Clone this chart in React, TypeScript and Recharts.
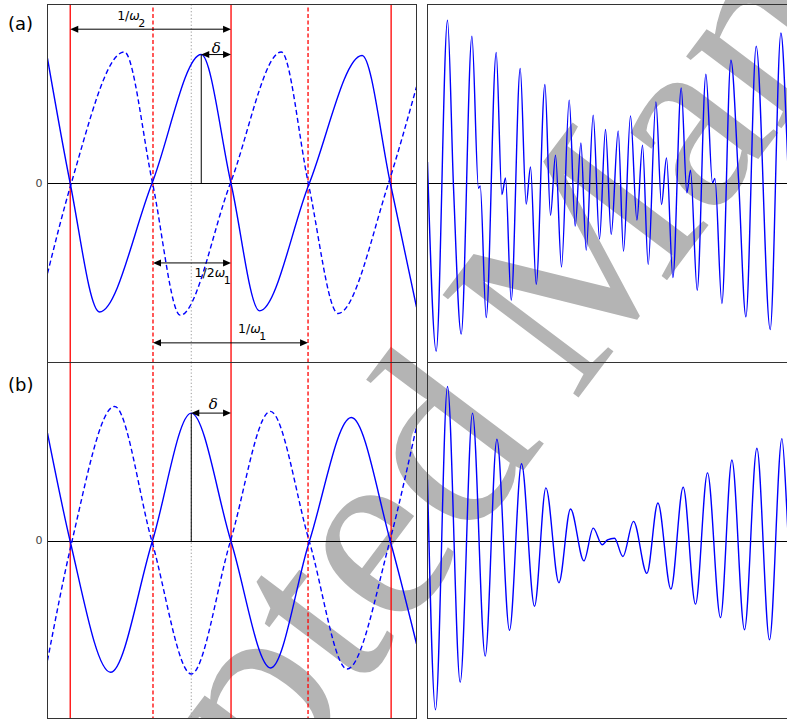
import React from "react";
import { LineChart, Line, XAxis, YAxis, ReferenceLine } from "recharts";

type Pt = { t: number; y: number };

// left panels: time in arbitrary units, amplitude normalised to ~1
const aSolid: Pt[] = [
  { t: 0, y: 0.962 }, { t: 0.284, y: 0 }, { t: 0.65, y: -0.988 }, { t: 1.305, y: 0 },
  { t: 1.921, y: 0.992 }, { t: 2.293, y: 0 }, { t: 2.65, y: -0.98 }, { t: 3.27, y: 0 },
  { t: 3.93, y: 0.985 }, { t: 4.284, y: 0 }, { t: 4.61, y: -0.95 },
];
const aDashed: Pt[] = [
  { t: 0, y: -0.692 }, { t: 0.296, y: 0 }, { t: 0.959, y: 1.012 }, { t: 1.313, y: 0 },
  { t: 1.659, y: -1.013 }, { t: 2.284, y: 0 }, { t: 2.921, y: 1.012 }, { t: 3.259, y: 0 },
  { t: 3.63, y: -1.0 }, { t: 4.259, y: 0 }, { t: 4.61, y: 0.743 },
];
const bSolid: Pt[] = [
  { t: 0, y: 0.828 }, { t: 0.284, y: 0 }, { t: 0.788, y: -1.0 }, { t: 1.309, y: 0 },
  { t: 1.796, y: 0.982 }, { t: 2.293, y: 0 }, { t: 2.788, y: -0.967 }, { t: 3.271, y: 0 },
  { t: 3.796, y: 0.948 }, { t: 4.284, y: 0 }, { t: 4.61, y: -0.782 },
];
const bDashed: Pt[] = [
  { t: 0, y: -0.91 }, { t: 0.305, y: 0 }, { t: 0.838, y: 1.033 }, { t: 1.305, y: 0 },
  { t: 1.796, y: -1.013 }, { t: 2.284, y: 0 }, { t: 2.784, y: 0.995 }, { t: 3.271, y: 0 },
  { t: 3.743, y: -0.975 }, { t: 4.275, y: 0 }, { t: 4.61, y: 0.879 },
];

const redSolidT = [0.284, 2.293, 4.293];
const redDashedT = [1.318, 3.255];
const dottedT = 1.796;

// right panels: beating signals
const rightTop: Pt[] = [
  { t: 0, y: 0.166 }, { t: 0.87, y: -1.29 }, { t: 2.0, y: 1.256 }, { t: 2.6, y: -0.026 },
  { t: 3.37, y: -1.159 }, { t: 4.44, y: 1.133 }, { t: 5.1, y: -0.036 }, { t: 5.27, y: -0.018 },
  { t: 5.87, y: -1.031 }, { t: 6.87, y: 1.008 }, { t: 7.44, y: -0.085 }, { t: 7.8, y: 0.043 },
  { t: 8.37, y: -0.898 }, { t: 9.27, y: 0.885 }, { t: 9.87, y: -0.159 }, { t: 10.3, y: 0.128 },
  { t: 10.87, y: -0.775 }, { t: 11.74, y: 0.762 }, { t: 12.3, y: -0.244 }, { t: 12.8, y: 0.218 },
  { t: 13.4, y: -0.642 }, { t: 14.17, y: 0.641 }, { t: 14.77, y: -0.328 }, { t: 15.34, y: 0.312 },
  { t: 15.87, y: -0.513 }, { t: 16.57, y: 0.525 }, { t: 17.2, y: -0.428 }, { t: 17.8, y: 0.415 },
  { t: 18.37, y: -0.392 }, { t: 19.07, y: 0.405 }, { t: 19.6, y: -0.521 }, { t: 20.3, y: 0.52 },
  { t: 20.94, y: -0.282 }, { t: 21.5, y: 0.295 }, { t: 22.07, y: -0.623 }, { t: 22.84, y: 0.628 },
  { t: 23.4, y: -0.162 }, { t: 23.9, y: 0.197 }, { t: 24.54, y: -0.723 }, { t: 25.37, y: 0.735 },
  { t: 25.94, y: -0.072 }, { t: 26.3, y: 0.102 }, { t: 26.97, y: -0.821 }, { t: 27.84, y: 0.841 },
  { t: 28.5, y: 0.005 }, { t: 28.74, y: 0.038 }, { t: 29.44, y: -0.923 }, { t: 30.34, y: 0.948 },
  { t: 31.1, y: 0.038 }, { t: 31.84, y: -1.026 }, { t: 32.87, y: 1.056 }, { t: 34.27, y: -1.123 },
  { t: 35.34, y: 1.158 }, { t: 35.94, y: 0.333 }, { t: 36.3, y: -0.4 },
];
const rightBottom: Pt[] = [
  { t: 0, y: 0.475 }, { t: 0.8, y: -1.287 }, { t: 2.0, y: 1.185 }, { t: 3.27, y: -1.077 },
  { t: 4.5, y: 0.982 }, { t: 5.77, y: -0.877 }, { t: 6.94, y: 0.782 }, { t: 8.2, y: -0.679 },
  { t: 9.4, y: 0.595 }, { t: 10.7, y: -0.495 }, { t: 11.84, y: 0.41 }, { t: 13.14, y: -0.315 },
  { t: 14.3, y: 0.249 }, { t: 15.64, y: -0.148 }, { t: 16.57, y: 0.102 }, { t: 17.47, y: -0.025 },
  { t: 18.0, y: 0.012 }, { t: 18.7, y: 0.025 }, { t: 19.54, y: -0.115 }, { t: 20.6, y: 0.154 },
  { t: 21.94, y: -0.244 }, { t: 23.04, y: 0.295 }, { t: 24.34, y: -0.364 }, { t: 25.57, y: 0.415 },
  { t: 26.8, y: -0.479 }, { t: 28.0, y: 0.525 }, { t: 29.3, y: -0.582 }, { t: 30.44, y: 0.623 },
  { t: 31.7, y: -0.675 }, { t: 32.94, y: 0.713 }, { t: 34.2, y: -0.752 }, { t: 35.44, y: 0.787 },
  { t: 35.94, y: 0.231 }, { t: 36.3, y: -0.35 },
];

// arrows: [from, to, level]
const omega2Span = [0.284, 2.293, 1.187];
const halfOmega1Span = [1.318, 2.293, -0.611];
const omega1Span = [1.318, 3.255, -1.226];
const deltaA = [1.921, 2.293, 0.992];
const deltaB = [1.796, 2.293, 0.982];

const BLUE = "#0000ff";
const RED = "#ff0000";
const font = "'DejaVu Sans', sans-serif";

function Arrow(props: any) {
  const { x1, y1, x2, note, dx = 0, dy = 0, anchor = "middle" } = props;
  const h = 8;
  const w = 3.5;
  const mid = (x1 + x2) / 2;
  return (
    <g>
      <line x1={x1 + h - 1} y1={y1} x2={x2 - h + 1} y2={y1} stroke="#000" strokeWidth={1} />
      <polygon points={`${x1},${y1} ${x1 + h},${y1 - w} ${x1 + h},${y1 + w}`} fill="#000" />
      <polygon points={`${x2},${y1} ${x2 - h},${y1 - w} ${x2 - h},${y1 + w}`} fill="#000" />
      {note && (
        <text x={mid + dx} y={y1 + dy} textAnchor={anchor} fontFamily={font} fontSize={12.5} fill="#000">
          {note}
        </text>
      )}
    </g>
  );
}

const Delta = (
  <tspan fontFamily="'DejaVu Serif', serif" fontStyle="italic" fontSize={15}>
    δ
  </tspan>
);

function arrowLine(span: number[], note: React.ReactNode, dx: number, dy: number, anchor = "middle") {
  return (
    <ReferenceLine
      segment={[
        { x: span[0], y: span[2] },
        { x: span[1], y: span[2] },
      ]}
      stroke="#000"
      shape={(p: any) => <Arrow {...p} note={note} dx={dx} dy={dy} anchor={anchor} />}
    />
  );
}

function LeftPanel({ solid, dashed, yMax, marks }: { solid: Pt[]; dashed: Pt[]; yMax: number; marks: React.ReactNode }) {
  return (
    <LineChart width={417} height={358.5} margin={{ top: 0.5, right: 0.5, bottom: 0, left: 47.5 }}>
      <XAxis type="number" dataKey="t" domain={[0, 4.61]} hide allowDataOverflow />
      <YAxis type="number" domain={[-yMax, yMax]} hide allowDataOverflow />
      {redSolidT.map((t) => (
        <ReferenceLine key={`rs${t}`} x={t} stroke={RED} strokeWidth={1.3} />
      ))}
      {redDashedT.map((t) => (
        <ReferenceLine key={`rd${t}`} x={t} stroke={RED} strokeWidth={1.3} strokeDasharray="4 2.5" />
      ))}
      <ReferenceLine x={dottedT} stroke="#999" strokeDasharray="1.2 2.2" />
      <ReferenceLine y={0} stroke="#000" />
      <Line data={dashed} dataKey="y" type="monotone" stroke={BLUE} strokeWidth={1.4} strokeDasharray="5 3" dot={false} isAnimationActive={false} />
      <Line data={solid} dataKey="y" type="monotone" stroke={BLUE} strokeWidth={1.4} dot={false} isAnimationActive={false} />
      {marks}
    </LineChart>
  );
}

function RightPanel({ data, yMax }: { data: Pt[]; yMax: number }) {
  return (
    <LineChart width={364} height={358.5} margin={{ top: 0.5, right: 0.5, bottom: 0, left: 0.5 }}>
      <XAxis type="number" dataKey="t" domain={[0, 36.3]} hide allowDataOverflow />
      <YAxis type="number" domain={[-yMax, yMax]} hide allowDataOverflow />
      <ReferenceLine y={0} stroke="#000" />
      <Line data={data} dataKey="y" type="monotone" stroke={BLUE} strokeWidth={1.4} dot={false} isAnimationActive={false} />
    </LineChart>
  );
}

const frame = (left: number, top: number, width: number, height: number): React.CSSProperties => ({
  position: "absolute",
  left,
  top,
  width,
  height,
  boxSizing: "border-box",
  border: "1px solid #333",
  pointerEvents: "none",
});

const sub = (s: string) => (
  <tspan dx={-1.5} dy={7} fontSize={11}>
    {s}
  </tspan>
);

export default function App() {
  const marksA = (
    <>
      <ReferenceLine segment={[{ x: deltaA[0], y: 0 }, { x: deltaA[0], y: deltaA[2] }]} stroke="#000" />
      {arrowLine(omega2Span, <>1/<tspan fontStyle="italic">ω</tspan>{sub("2")}</>, -19.4, -9)}
      {arrowLine(halfOmega1Span, <>1/2<tspan fontStyle="italic">ω</tspan>{sub("1")}</>, 2.6, 14, "start")}
      {arrowLine(omega1Span, <>1/<tspan fontStyle="italic">ω</tspan>{sub("1")}</>, 7.5, -10, "start")}
      {arrowLine(deltaA, Delta, 0, -1.5)}
    </>
  );
  const marksB = (
    <>
      <ReferenceLine segment={[{ x: deltaB[0], y: 0 }, { x: deltaB[0], y: deltaB[2] }]} stroke="#000" />
      {arrowLine(deltaB, Delta, 2, -4)}
    </>
  );

  return (
    <div style={{ position: "absolute", left: 0, top: 0, width: 787, height: 719, overflow: "hidden", background: "#fff", fontFamily: font }}>
      <svg width={787} height={719} style={{ position: "absolute", left: 0, top: 0 }}>
        <text
          x={-45}
          y={1225}
          transform="rotate(-53 -45 1225)"
          fontFamily="'Liberation Serif', serif"
          fontSize={260}
          fill="#b4b4b4"
        >
          <tspan>Accepted </tspan>
          <tspan dx={-18} letterSpacing={-4}>Manuscript</tspan>
        </text>
      </svg>

      <div style={{ position: "absolute", left: 0, top: 4 }}>
        <LeftPanel solid={aSolid} dashed={aDashed} yMax={1.377} marks={marksA} />
      </div>
      <div style={{ position: "absolute", left: 0, top: 362 }}>
        <LeftPanel solid={bSolid} dashed={bDashed} yMax={1.369} marks={marksB} />
      </div>
      <div style={{ position: "absolute", left: 427, top: 4 }}>
        <RightPanel data={rightTop} yMax={1.377} />
      </div>
      <div style={{ position: "absolute", left: 427, top: 362 }}>
        <RightPanel data={rightBottom} yMax={1.369} />
      </div>

      <div style={frame(47, 4, 370, 359)} />
      <div style={frame(47, 362, 370, 357)} />
      <div style={frame(427, 4, 400, 359)} />
      <div style={frame(427, 362, 400, 357)} />

      <svg width={60} height={719} style={{ position: "absolute", left: 0, top: 0, pointerEvents: "none" }}>
        <text x={8} y={30} fontSize={18} fontFamily={font} fill="#000">(a)</text>
        <text x={8} y={391} fontSize={18} fontFamily={font} fill="#000">(b)</text>
        <text x={42.5} y={183.5} textAnchor="end" dominantBaseline="central" fontSize={11} fontFamily={font} fill="#444">0</text>
        <text x={42.5} y={540.5} textAnchor="end" dominantBaseline="central" fontSize={11} fontFamily={font} fill="#444">0</text>
      </svg>
    </div>
  );
}
